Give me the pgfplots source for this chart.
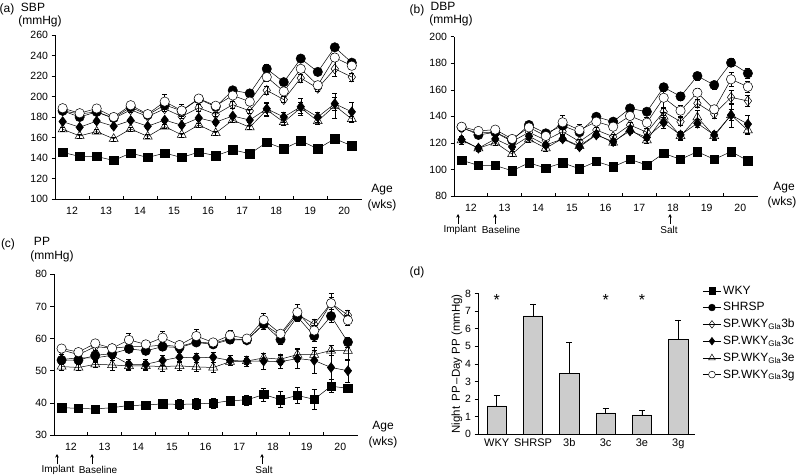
\documentclass[border=0pt]{standalone}
\usepackage{fontspec}
\setmainfont{Liberation Sans}
\usepackage{pgfplots}
\pgfplotsset{compat=1.18}
\usepackage{pgfplotstable}
\usetikzlibrary{arrows.meta}

% x = measurement index (0 = week 12, 1 = week 12.5, ... 17 = week 20.5)
\pgfplotstableread{
x wky wkye shr shre b be c ce e ee g ge
0  145.5 1 186   2 186   2 175.5 2 168   2 188.6 2
1  141.5 1 180   2 183   2 170   2 161.6 2 183.7 2
2  141.5 1 185   2 185   2 176   2 165.8 2 188.3 2
3  137.6 1 179   2 178.5 2 171   2 158.7 2 180   2
4  144.8 1 189.6 2 187   2 176.6 2 168.4 2 191.5 3
5  140.5 1 182   2 180.5 2 171   2 161   2 182.8 2
6  144.8 1 191.8 2 188   2 177   2 170.7 2 195   7
7  140.5 1 186   2 180.5 2 172   2 162.6 2 186.3 6
8  145.8 1 197.5 3 189   3 179   2 172.3 2 198   3
9  142.2 1 190   3 182.5 2 175   2 164.3 2 191   2
10 148   1 206   3 192   3 181   2 177   2 201   3
11 144.2 1 203   3 186   2 177   2 170   2 195   2
12 155.2 1 227   4 206   4 188   6 187   6 219   4
13 149   1 214   3 197   3 180   5 175   3 205   3
14 156.8 1 237   3 218   4 190   8 189   5 227   3
15 149   1 224   3 208   3 180   5 176   3 211   4
16 158.8 1 248   3 227   7 193   6 191  12 238   4
17 151.9 1 233   3 219   4 185   9 178   3 230   3
}\tabA

\pgfplotstableread{
x wky wkye shr shre b be c ce e ee g ge
0  107   1 132   2 131   2 122.5 2 122   3 132.2 2
1  103   1 126   2 127.5 2 116   2 116   2 129   2
2  103   1 128   2 128   2 123   2 120.2 2 130   2
3  99    1 122   2 121   2 117   2 111.6 2 123   2
4  105   1 133.5 2 128   2 125   2 122.7 2 131.7 2
5  101   1 127.2 2 122   2 118.4 2 116   2 125.2 2
6  105   1 133   2 128.5 2 123   2 123.4 2 135.5 5
7  100.5 1 128   2 121   2 117   2 117.7 2 129.7 4
8  106   1 139.7 2 129.7 2 126   2 126.5 2 136   2
9  102   1 136   2 124.7 2 121   2 120.2 2 132.2 2
10 107.6 1 146   2 133.5 2 129   2 130.2 2 140.3 2
11 103.3 1 143.5 2 128   3 124.2 2 122   2 135.2 4
12 112.1 1 161.9 3 143.5 3 135.2 4 139.8 3 154   8
13 107.6 1 155   3 136   3 126   3 125.2 3 144.3 4
14 113.4 1 170.4 3 149.8 3 134.8 3 139.3 5 157.8 3
15 107.6 1 163.6 3 141.8 3 126   3 125.2 3 145.3 3
16 113.4 1 180.4 3 154.3 5 141   9 141   4 167.9 5
17 106.6 1 172.4 4 151.6 4 134.2 7 129.5 3 162.3 4
}\tabB

\pgfplotstableread{
x wky wkye shr shre b be c ce e ee g ge
0  38.5 0.8 53.3 1   56.5 0.8 53.5 1.5 51.3 1   56.9 0.8
1  38.3 0.8 53.3 1   55   0.8 54   1.5 51   1   55.8 1
2  38.1 0.8 54.8 1.5 57.5 1   54   1.5 52   1   58.5 1
3  38.5 1   55.3 1.5 57   1   54.8 1.5 51.8 1.5 57   1
4  39.2 1.2 56.8 1   57.5 1   52   1.5 51.5 1.5 59.6 2
5  39.3 1.2 56.2 1   57.5 1   52   1.5 51.5 1.5 58.2 1.2
6  39.7 1.5 57.5 1   58   1   53.2 1.5 51.3 1.5 60.3 2
7  39.5 1.5 57.2 1   57.5 1   54.2 1.5 51.5 1.5 58   1
8  39.7 1.8 58.8 1   59   1   54   1.5 51.2 1.5 60.8 2
9  39.9 1.5 58.2 1   58.5 1   54.2 1.5 51   1.5 58.8 1
10 40.7 1.5 59.7 1   60   1   53.2 1.5 52.8 1   61   1.5
11 40.9 1.5 59.5 1   59.5 1   53   1.5 53   1   60   1
12 42.6 2   64.5 1.5 64.5 1.5 53   2.5 54   1.5 65.8 2
13 41   2.5 59.7 1.5 61   1.5 52.8 2   53.6 1.5 61.5 1
14 42.3 2.5 66.8 1.5 67.5 1.5 53.8 3   55   2   68.2 2.5
15 41.1 3   60.8 1.5 64.5 1.5 53.2 4   55   1.5 62.5 1.5
16 45.2 2   67   2   71   2   51   5   56.3 1.5 71   3
17 44.5 1.2 58.9 1.5 67.3 1.5 50   3.5 56.2 3   65.7 1.5
}\tabC

\pgfplotstableread{
x y e
0 1.61 0.62
1 6.72 0.68
2 3.48 1.75
3 1.21 0.27
4 1.10 0.28
5 5.40 1.10
}\tabD

\pgfplotsset{
  base/.style={
    scale only axis,
    axis x line*=bottom, axis y line*=left,
    axis line style={-, line width=0.6pt, black},
    every tick/.style={black, line width=0.6pt},
    tick label style={font=\fontsize{10.5}{12}\selectfont},
    /pgf/number format/assume math mode=true,
    clip=false,
    ytick align=outside, major tick length=3.5pt,
  },
  linepanel/.style={
    base,
    width=#1pt,
    xmin=-0.45, xmax=17.6,
    xtick={0.55,2.55,4.55,6.55,8.55,10.55,12.55,14.55,16.55},
    xticklabels={12,13,14,15,16,17,18,19,20},
    minor xtick={1.55,3.55,5.55,7.55,9.55,11.55,13.55,15.55},
    x tick style={draw=none},
    minor x tick style={draw=black, line width=0.6pt},
    xtick align=inside, minor tick length=3.5pt,
    xticklabel style={yshift=-5pt},
  },
  sline/.style={black, line width=0.5pt},
  ebar/.style={error bars/.cd, y dir=both, y explicit,
    error bar style={line width=0.5pt, black},
    error mark options={rotate=90, mark size=2.5pt, line width=0.5pt, black}},
  mwky/.style={sline, mark=square*, mark size=4.2pt, mark options={fill=black, solid}},
  mshr/.style={sline, mark=*, mark size=4.7pt, mark options={fill=black, solid}},
  mb/.style={sline, mark=diamond, mark size=5pt, mark options={fill=white, solid}},
  mc/.style={sline, mark=diamond*, mark size=5pt, mark options={fill=black, solid}},
  me/.style={sline, mark=triangle, mark size=5.2pt, mark options={fill=white, solid}},
  mg/.style={sline, mark=*, mark size=4.7pt, mark options={fill=white, solid}},
}

\newcommand{\sixseries}[1]{%
  \addplot[mwky, ebar] table[x=x, y=wky, y error=wkye] {#1};
  \addplot[me, ebar] table[x=x, y=e, y error=ee] {#1};
  \addplot[mc, ebar] table[x=x, y=c, y error=ce] {#1};
  \addplot[mb, ebar] table[x=x, y=b, y error=be] {#1};
  \addplot[mshr, ebar] table[x=x, y=shr, y error=shre] {#1};
  \addplot[mg, ebar] table[x=x, y=g, y error=ge] {#1};
}

\begin{document}
\begin{tikzpicture}[x=1pt, y=1pt]
\useasboundingbox (0,0) rectangle (800,475);

% ---------- (a) SBP ----------
\begin{axis}[linepanel=307, height=164pt, at={(55pt,276pt)}, anchor=south west,
  ymin=100, ymax=260, ytick={100,120,...,260}]
  \sixseries{\tabA}
\end{axis}

% ---------- (b) DBP ----------
\begin{axis}[linepanel=304, height=159.3pt, at={(454pt,279pt)}, anchor=south west,
  ymin=80, ymax=200, ytick={80,100,...,200}]
  \sixseries{\tabB}
\end{axis}

% ---------- (c) PP ----------
\begin{axis}[linepanel=304, height=160.7pt, at={(54pt,40pt)}, anchor=south west,
  ymin=30, ymax=80, ytick={30,40,...,80}]
  \sixseries{\tabC}
\end{axis}

% ---------- (d) bars ----------
\begin{axis}[base, width=217pt, height=140.9pt, at={(478pt,40.7pt)}, anchor=south west,
  ymin=0, ymax=8, ytick={0,1,...,8},
  xmin=-0.515, xmax=5.46, xtick={0,1,2,3,4,5},
  xticklabels={WKY,SHRSP,3b,3c,3e,3g},
  x tick style={draw=none},
  xticklabel style={font=\fontsize{11}{13}\selectfont, yshift=-1pt},
  ylabel={Night\, PP\,--Day PP (mmHg)},
  ylabel style={font=\fontsize{11.5}{13}\selectfont, yshift=-4pt},
  legend style={at={(1.03,1.075)}, anchor=north west, draw=none, fill=none,
    font=\fontsize{12}{13.5}\selectfont, row sep=2.8pt, inner sep=1pt},
  legend cell align=left,
  legend image code/.code={\draw[mark repeat=2, mark phase=2, #1] plot coordinates {(0pt,0pt) (9pt,0pt) (18pt,0pt)};},
  ]
  \addplot[ybar, bar width=19.3pt, fill=black!20, draw=black, line width=0.6pt,
    forget plot,
    error bars/.cd, y dir=plus, y explicit,
    error bar style={line width=0.6pt, black},
    error mark options={rotate=90, mark size=3pt, line width=0.6pt, black}]
    table[x=x, y=y, y error=e] {\tabD};
  \node[font=\fontsize{16}{16}\selectfont] at (axis cs:0,7.6) {*};
  \node[font=\fontsize{16}{16}\selectfont] at (axis cs:3,7.6) {*};
  \node[font=\fontsize{16}{16}\selectfont] at (axis cs:4,7.6) {*};
  \addlegendimage{black, line width=0.5pt, mark=square*, mark size=3.2pt, mark options={fill=black}}
  \addlegendentry{WKY}
  \addlegendimage{black, line width=0.5pt, mark=*, mark size=3.4pt, mark options={fill=black}}
  \addlegendentry{SHRSP}
  \addlegendimage{black, line width=0.5pt, mark=diamond, mark size=3.8pt, mark options={fill=white}}
  \addlegendentry{SP.WKY\textsubscript{Gla}3b}
  \addlegendimage{black, line width=0.5pt, mark=diamond*, mark size=3.8pt, mark options={fill=black}}
  \addlegendentry{SP.WKY\textsubscript{Gla}3c}
  \addlegendimage{black, line width=0.5pt, mark=triangle, mark size=3.8pt, mark options={fill=white}}
  \addlegendentry{SP.WKY\textsubscript{Gla}3e}
  \addlegendimage{black, line width=0.5pt, mark=*, mark size=3.4pt, mark options={fill=white}}
  \addlegendentry{SP.WKY\textsubscript{Gla}3g}
\end{axis}

% ---------- titles and labels ----------
\tikzset{lab/.style={font=\fontsize{12}{13}\selectfont, inner sep=0pt},
         sm/.style={font=\fontsize{10}{11}\selectfont, inner sep=0pt}}
\node[lab] at (7,466) {(a)};
\node[lab] at (33,468) {SBP};
\node[lab] at (40,454) {(mmHg)};
\node[lab] at (382,285) {Age};
\node[lab] at (382,270) {(wks)};

\node[lab] at (417,465) {(b)};
\node[lab] at (443,469) {DBP};
\node[lab] at (451,455) {(mmHg)};
\node[lab] at (784,287) {Age};
\node[lab] at (782,273) {(wks)};

\node[lab] at (8,231) {(c)};
\node[lab] at (42,234) {PP};
\node[lab] at (52,219) {(mmHg)};
\node[lab] at (383,48) {Age};
\node[lab] at (383,33) {(wks)};

\node[lab] at (417,203) {(d)};

% arrows (b)
\foreach \xx in {458,495,670} \draw[line width=0.6pt, -{Stealth[length=3.5pt,width=3.5pt]}] (\xx,251) -- (\xx,261);
\node[sm] at (460,245) {Implant};
\node[sm] at (501,245) {Baseline};
\node[sm] at (669,245) {Salt};
% arrows (c)
\foreach \xx in {57,92,262} \draw[line width=0.6pt, -{Stealth[length=3.5pt,width=3.5pt]}] (\xx,11) -- (\xx,21);
\node[sm] at (58,5) {Implant};
\node[sm] at (98,5) {Baseline};
\node[sm] at (264,5) {Salt};
\end{tikzpicture}
\end{document}
